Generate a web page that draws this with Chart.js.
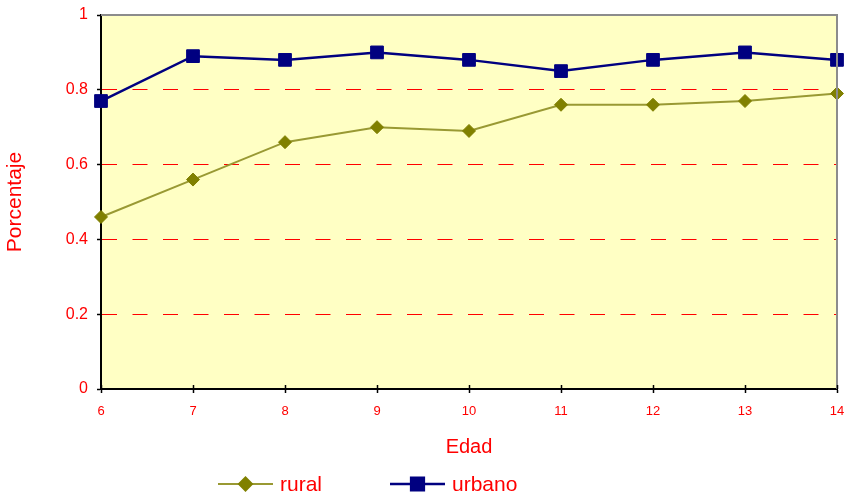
<!DOCTYPE html>
<html>
<head>
<meta charset="utf-8">
<script src="https://cdn.jsdelivr.net/npm/chart.js@4/dist/chart.umd.min.js"></script>
<style>
  html, body { margin: 0; padding: 0; background: #ffffff; }
  #wrap { width: 849px; height: 495px; position: relative; }
</style>
</head>
<body>
<div id="wrap"><canvas id="c" width="849" height="495"></canvas></div>
<script>
// Edad (años) y porcentaje por zona
const edades = ['6', '7', '8', '9', '10', '11', '12', '13', '14'];
const rural  = [0.46, 0.56, 0.66, 0.70, 0.69, 0.76, 0.76, 0.77, 0.79];
const urbano = [0.77, 0.89, 0.88, 0.90, 0.88, 0.85, 0.88, 0.90, 0.88];
const yTicks = [0, 0.2, 0.4, 0.6, 0.8, 1];

const FONT = "'Liberation Sans', Arial, sans-serif";
const RED = '#FF0000';

// Plot background, grey top/right frame and the inner half of the x tick marks
const plotFrame = {
  id: 'plotFrame',
  beforeDraw(chart) {
    const { ctx, chartArea: a } = chart;
    ctx.save();
    ctx.fillStyle = '#FFFFC4';
    ctx.fillRect(a.left, a.top, a.right - a.left, a.bottom - a.top);
    ctx.restore();
  },
  afterDraw(chart) {
    const { ctx, chartArea: a } = chart;
    ctx.save();
    ctx.strokeStyle = '#8C8C8C';
    ctx.lineWidth = 2;
    ctx.beginPath();
    ctx.moveTo(a.left, a.top);
    ctx.lineTo(a.right, a.top);
    ctx.lineTo(a.right, a.bottom);
    ctx.stroke();
    const xs = chart.scales.x;
    ctx.strokeStyle = '#000';
    ctx.lineWidth = 1.5;
    xs.ticks.forEach((t, i) => {
      const px = Math.round(xs.getPixelForTick(i)) + 0.5;
      ctx.beginPath();
      ctx.moveTo(px, a.bottom);
      ctx.lineTo(px, a.bottom - 4);
      ctx.stroke();
    });
    ctx.restore();
  }
};

// Legend drawn as line + marker + label, like a spreadsheet legend
const lineLegend = {
  id: 'lineLegend',
  afterDraw(chart, args, opts) {
    const { ctx } = chart;
    ctx.save();
    chart.data.datasets.forEach((ds, i) => {
      const x0 = opts.starts[i];
      const y = opts.lineY;
      ctx.strokeStyle = ds.borderColor;
      ctx.lineWidth = ds.borderWidth;
      ctx.beginPath();
      ctx.moveTo(x0, y);
      ctx.lineTo(x0 + opts.lineLength, y);
      ctx.stroke();
      ctx.fillStyle = ds.pointBackgroundColor;
      ctx.strokeStyle = ds.pointBorderColor;
      Chart.helpers.drawPoint(ctx, {
        pointStyle: ds.pointStyle,
        radius: ds.pointRadius,
        borderWidth: 1,
        rotation: 0
      }, x0 + opts.lineLength / 2, y);
      ctx.fillStyle = RED;
      ctx.font = '21px ' + FONT;
      ctx.textAlign = 'left';
      ctx.textBaseline = 'alphabetic';
      ctx.fillText(ds.label, x0 + opts.lineLength + 7, opts.textY);
    });
    ctx.restore();
  }
};

new Chart(document.getElementById('c'), {
  type: 'line',
  data: {
    labels: edades,
    datasets: [
      {
        label: 'rural',
        data: rural,
        borderColor: '#999933',
        borderWidth: 2,
        pointStyle: 'rectRot',
        pointRadius: 6.5,
        pointBackgroundColor: '#808000',
        pointBorderColor: '#808000',
        pointBorderWidth: 1,
        tension: 0,
        clip: false
      },
      {
        label: 'urbano',
        data: urbano,
        borderColor: '#000080',
        borderWidth: 2.5,
        pointStyle: 'rect',
        pointRadius: 9,
        pointBackgroundColor: '#000080',
        pointBorderColor: '#000080',
        pointBorderWidth: 1,
        tension: 0,
        clip: false
      }
    ]
  },
  options: {
    responsive: false,
    devicePixelRatio: 1,
    animation: false,
    events: [],
    layout: { padding: { top: 15, right: 12, bottom: 30, left: 0 } },
    plugins: {
      legend: { display: false },
      tooltip: { enabled: false },
      lineLegend: { starts: [218, 390], lineLength: 55, lineY: 484, textY: 491 }
    },
    scales: {
      x: {
        type: 'category',
        offset: false,
        grid: {
          drawOnChartArea: false,
          drawTicks: true,
          tickLength: 4,
          tickColor: '#000',
          tickWidth: 1.5
        },
        border: { display: true, color: '#000', width: 2 },
        ticks: {
          color: RED,
          font: { family: FONT, size: 13 },
          padding: 11,
          maxRotation: 0,
          autoSkip: false
        },
        title: {
          display: true,
          text: 'Edad',
          color: RED,
          font: { family: FONT, size: 20 },
          padding: { top: 0, bottom: 6 }
        },
        afterFit(scale) {
          scale.height = 76;
          scale.paddingLeft = 0;
          scale.paddingRight = 0;
        }
      },
      y: {
        type: 'linear',
        min: 0,
        max: 1,
        afterBuildTicks(scale) { scale.ticks = yTicks.map(v => ({ value: v })); },
        grid: {
          drawTicks: true,
          tickLength: 4,
          tickColor: '#000',
          tickWidth: 1.5,
          lineWidth: 1,
          color: (c) => (c.tick && (c.tick.value === 0 || c.tick.value === 1)) ? 'rgba(0,0,0,0)' : RED
        },
        border: { display: true, color: '#000', width: 2, dash: [15, 15.5] },
        ticks: {
          color: RED,
          font: { family: FONT, size: 16 },
          padding: 9,
          callback: (v) => String(v)
        },
        title: {
          display: true,
          text: 'Porcentaje',
          color: RED,
          font: { family: FONT, size: 21 },
          padding: { top: 3, bottom: 0 }
        },
        afterFit(scale) {
          scale.width = 101;
          scale.paddingTop = 0;
          scale.paddingBottom = 0;
        }
      }
    }
  },
  plugins: [plotFrame, lineLegend]
});
</script>
</body>
</html>
